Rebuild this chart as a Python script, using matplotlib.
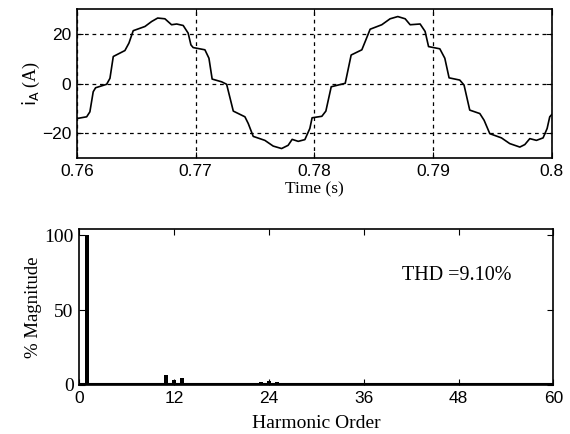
import matplotlib
matplotlib.use("Agg")
import matplotlib.pyplot as plt

# phase A current
t = [0.7600, 0.76082, 0.76109, 0.76137, 0.76157, 0.76250, 0.76278, 0.76306,
     0.76404, 0.76438, 0.76474, 0.76573, 0.76629, 0.76680, 0.76741, 0.76797,
     0.76840, 0.76895, 0.76937, 0.76960, 0.76979, 0.77078, 0.77112, 0.77139,
     0.77219, 0.77261, 0.77317, 0.77415, 0.77443, 0.77485, 0.77583, 0.77653,
     0.77724, 0.77779, 0.77813, 0.77864, 0.77920, 0.77962, 0.77981, 0.78063,
     0.78097, 0.78142, 0.78260, 0.78310, 0.78400, 0.78428, 0.78470, 0.78568,
     0.78638, 0.78703, 0.78765, 0.78807, 0.78891, 0.78933, 0.78962, 0.79004,
     0.79057, 0.79099, 0.79135, 0.79225, 0.79261, 0.79309, 0.79394, 0.79430,
     0.79478, 0.79576, 0.79646, 0.79731, 0.79773, 0.79815, 0.79871, 0.79927,
     0.79961, 0.79983, 0.8000]
i_a = [-14.1, -13.4, -11.4, -3.3, -1.7, -0.3, 2.1, 10.9,
       13.3, 16.3, 21.3, 23.0, 25.0, 26.4, 26.1, 23.7,
       24.0, 23.4, 20.3, 15.6, 14.5, 13.6, 10.2, 1.8,
       0.7, -0.3, -11.1, -13.4, -16.1, -21.3, -22.9, -25.2,
       -26.2, -24.9, -22.5, -23.3, -22.6, -18.1, -13.8, -13.2,
       -11.1, -1.3, 0.1, 11.5, 13.6, 16.9, 21.9, 23.7,
       26.1, 27.0, 26.1, 23.7, 24.0, 21.0, 14.9, 14.5,
       14.0, 10.2, 2.3, 1.4, -0.6, -10.7, -12.1, -14.8,
       -20.2, -21.9, -24.2, -25.6, -24.6, -22.2, -22.9, -21.9,
       -18.1, -13.4, -12.5]

# harmonic spectrum
orders = [1, 11, 12, 13, 23, 24, 25]
magnitude = [100, 6.5, 3.0, 4.8, 2.0, 2.5, 2.2]
thd_text = "THD =9.10%"

serif = "Liberation Serif"
sans = "Liberation Sans"

fig = plt.figure(figsize=(5.7, 4.34), dpi=100)

# waveform
ax1 = fig.add_axes([0.135, 0.636, 0.833, 0.343])
ax1.plot(t, i_a, color="black", linewidth=1.2)
ax1.set_xlim(0.76, 0.8)
ax1.set_ylim(-30, 30)
ax1.set_xticks([0.76, 0.77, 0.78, 0.79, 0.8])
ax1.set_xticklabels(["0.76", "0.77", "0.78", "0.79", "0.8"])
ax1.set_yticks([-20, 0, 20])
ax1.grid(True, color="black", linestyle=(0, (3, 3)), linewidth=0.9)
ax1.set_xlabel("Time (s)", fontsize=12.5, family=serif, labelpad=2)
ax1.set_ylabel(r"$\mathrm{i_A}$ (A)", fontsize=13, family=serif, labelpad=0)

# spectrum
ax2 = fig.add_axes([0.139, 0.113, 0.832, 0.359])
ax2.bar(orders, magnitude, width=0.5, color="black")
ax2.axhline(0.4, color="black", linewidth=1.5)
ax2.set_xlim(0, 60)
ax2.set_ylim(0, 104)
ax2.set_xticks([0, 12, 24, 36, 48, 60])
ax2.set_yticks([0, 50, 100])
ax2.text(40.8, 70, thd_text, fontsize=14.5, family=serif)
ax2.set_xlabel("Harmonic Order", fontsize=14, family=serif, labelpad=7)
ax2.set_ylabel("% Magnitude", fontsize=13.5, family=serif, labelpad=2)

for ax in (ax1, ax2):
    ax.tick_params(direction="in", top=True, right=True, length=4,
                   labelsize=12.5, pad=4)
    for lab in ax.get_xticklabels() + ax.get_yticklabels():
        lab.set_family(sans)
    for s in ax.spines.values():
        s.set_linewidth(1.2)

for lab in ax2.get_yticklabels():
    lab.set_family(serif)
    lab.set_fontsize(14)

plt.savefig("out.png", dpi=100)
